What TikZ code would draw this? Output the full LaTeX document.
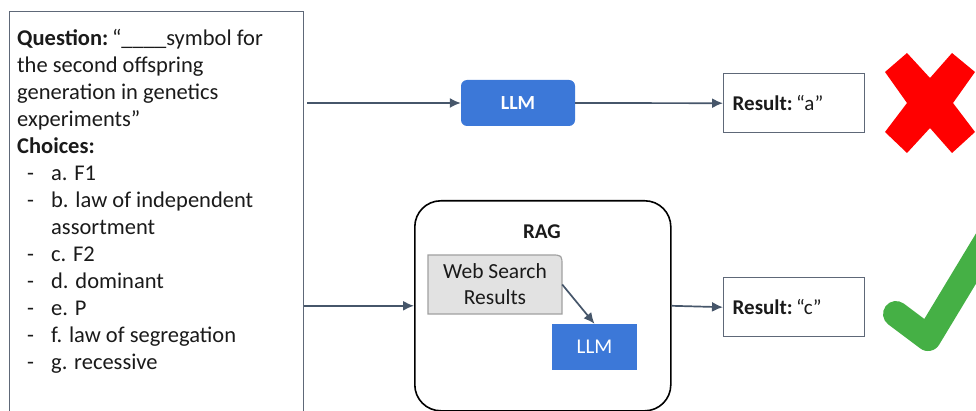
\documentclass[tikz,border=0pt]{standalone}
\usepackage{fontspec}
\setmainfont{Carlito}
\usetikzlibrary{arrows.meta}
\definecolor{llmblue}{HTML}{3C78D8}
\definecolor{linkc}{HTML}{46566A}
\definecolor{boxline}{HTML}{5E6878}
\definecolor{webfill}{HTML}{E2E2E2}
\definecolor{webline}{HTML}{A0A0A0}
\definecolor{wrongred}{HTML}{FF0000}
\definecolor{rightgreen}{HTML}{45B045}
\definecolor{ink}{HTML}{1A1A1A}

\begin{document}
\begin{tikzpicture}[x=1pt, y=-1pt,
  font=\fontsize{21}{26}\selectfont, text=ink,
  link/.style={draw=linkc, line width=1.7pt, -{Latex[length=11pt,width=10pt]}},
  llmbox/.style={fill=llmblue, text=white, inner sep=0pt},
  resultbox/.style={draw=boxline, line width=1.4pt, minimum height=59pt,
    text width=123pt, inner xsep=9pt, inner ysep=0pt, align=left},
]
\useasboundingbox (0,0) rectangle (976,411);
\clip (0,0) rectangle (976,411);

% question with its choices
\node[draw=boxline, line width=1.4pt, minimum width=294pt, minimum height=420pt,
      anchor=north west, inner sep=0pt] (q) at (9,11) {};
\node[anchor=north west, inner sep=0pt, align=left,
      font=\fontsize{22.5}{27}\selectfont] (qtext) at (17,29.5)
  {\textbf{Question:}\,“\_\_\_\_symbol for\\
   the second offspring\\
   generation in genetics\\
   experiments”\\
   \textbf{Choices:}\\
   \hspace*{10pt}\makebox[24pt][l]{-}a. F1\\
   \hspace*{10pt}\makebox[24pt][l]{-}b. law of independent\\
   \hspace*{34pt}assortment\\
   \hspace*{10pt}\makebox[24pt][l]{-}c. F2\\
   \hspace*{10pt}\makebox[24pt][l]{-}d. dominant\\
   \hspace*{10pt}\makebox[24pt][l]{-}e. P\\
   \hspace*{10pt}\makebox[24pt][l]{-}f. law of segregation\\
   \hspace*{10pt}\makebox[24pt][l]{-}g. recessive};

% plain LLM path
\node[llmbox, rounded corners=6pt, minimum width=114pt, minimum height=46pt,
      font=\bfseries\fontsize{20}{24}\selectfont] (llm1) at (518,103) {LLM};
\node[resultbox, anchor=north west] (res1) at (723,73) {\textbf{Result:}\,“a”};

% RAG path
\node[draw=black, line width=1.6pt, rounded corners=26pt, minimum width=256pt,
      minimum height=210pt, anchor=north west, inner sep=0pt] (rag) at (414,200) {};
\node[font=\bfseries\fontsize{21}{26}\selectfont] (raglabel) at (542,232) {RAG};
\filldraw[fill=webfill, draw=webline, line width=1.2pt]
  (428,255) -- (551,255) .. controls (562,255) .. (562,266) -- (562,314) -- (428,314) -- cycle;
\node[align=center, minimum width=134pt, minimum height=59pt, inner sep=0pt,
      font=\fontsize{21.5}{26}\selectfont] (web) at (495,284.5) {Web Search\\Results};
\node[llmbox, minimum width=85pt, minimum height=46pt] (llm2) at (594.5,347) {LLM};
\node[resultbox, anchor=north west] (res2) at (723,277) {\textbf{Result:}\,“c”};

% connectors
\draw[link] ([xshift=3pt]q.east |- llm1.west) -- (llm1.west);
\draw[link] (llm1.east) -- (res1.west);
\draw[link] (q.east |- rag.west) -- (rag.west);
\draw[link] (rag.east) -- (res2.west);
\draw[link] (web.east) -- (llm2.north);

% verdict marks
\fill[wrongred, shift={(930,103)}]
  (-45,-31) -- (-23,-50) -- (0,-25) -- (22,-50) -- (45,-31) -- (23,0) --
  (45,29) -- (22,50) -- (0,25) -- (-23,50) -- (-45,29) -- (-23,0) -- cycle;
\draw[rightgreen, line width=26pt, line cap=round, line join=round]
  (896,314) -- (928,338) -- (992,232);
\end{tikzpicture}
\end{document}
